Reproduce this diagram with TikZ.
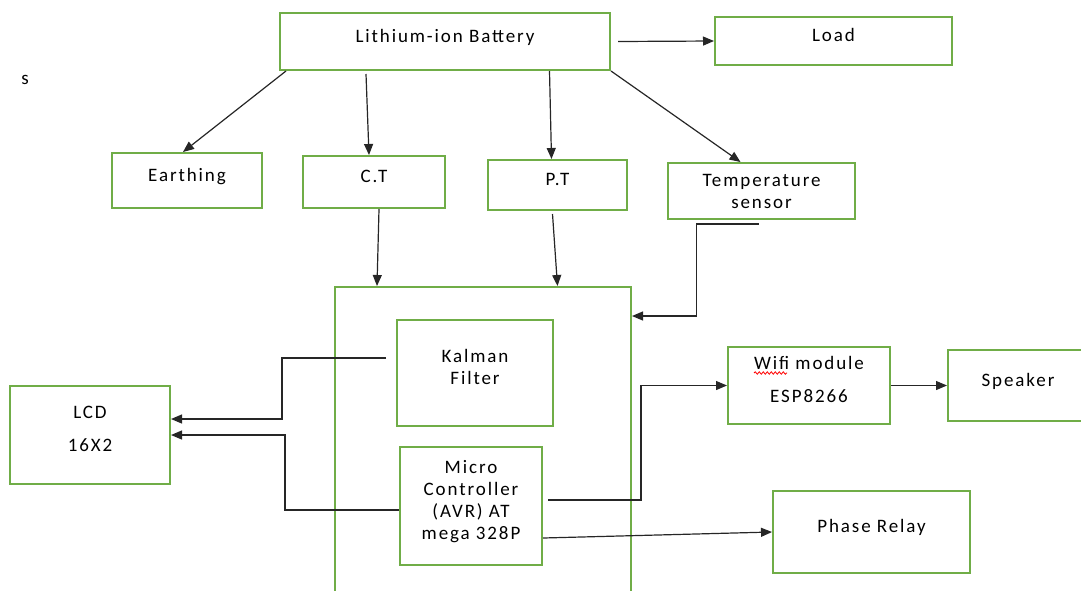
\documentclass[tikz,border=0pt]{standalone}
\usepackage{fontspec}
\setmainfont[LetterSpace=10]{Carlito}
\usetikzlibrary{arrows.meta, decorations.pathmorphing}
\definecolor{boxgreen}{HTML}{70AD47}
\definecolor{wiregray}{HTML}{262626}

\begin{document}
\begin{tikzpicture}[
    x=1pt, y=-1pt,
    block/.style={draw=boxgreen, line width=2pt, align=center,
                  font=\fontsize{19}{22}\selectfont, text depth=12pt,
                  inner sep=0pt},
    wire/.style={draw=wiregray, line width=1.2pt,
                 -{Triangle[length=11pt,width=9pt]}}
  ]
    \path[use as bounding box, clip] (0,0) rectangle (1081,590);

    % power side
    \node[block, minimum width=330pt, minimum height=57pt] (bat) at (445,41.5)
      {Lithium-ion Battery};
    \node[block, minimum width=237pt, minimum height=48pt] (load) at (833.5,41)
      {Load};
    \node[block, minimum width=150pt, minimum height=55pt] (earth) at (187,180.5)
      {Earthing};
    \node[block, minimum width=142pt, minimum height=52pt] (ct) at (374,182)
      {C.T};
    \node[block, minimum width=139pt, minimum height=50pt] (pt) at (557.5,185)
      {P.T};
    \node[block, minimum width=187pt, minimum height=56pt, text depth=0pt]
      (temp) at (761.5,191) {Temperature\\sensor};
    \node[font=\fontsize{19}{22}\selectfont] (s) at (25,80) {s};

    % controller block
    \node[block, minimum width=296pt, minimum height=340pt] (ctrl) at (483,457) {};
    \node[block, minimum width=156pt, minimum height=106pt] (kal) at (475,373)
      {Kalman\\Filter};
    \node[block, minimum width=142pt, minimum height=118pt] (mcu) at (471,506)
      {Micro\\Controller\\(AVR) AT\\mega 328P};

    % outputs
    \node[block, minimum width=160pt, minimum height=98pt] (lcd) at (90,435)
      {LCD\\[11pt]16X2};
    \node[block, minimum width=162pt, minimum height=77pt] (wifi) at (809,385.5)
      {Wifi module\\[11pt]ESP8266};
    \node[block, minimum width=140pt, minimum height=71pt] (spk) at (1018,385.5)
      {Speaker};
    \node[block, minimum width=197pt, minimum height=82pt] (relay) at (871.5,532)
      {Phase Relay};

    \draw[red, line width=0.8pt, decorate,
          decoration={snake, amplitude=1.2pt, segment length=4pt}]
      (754,373) -- (787,373);

    % battery branches
    \draw[wire] ([xshift=7pt]bat.east) -- (load.west);
    \draw[wire] ([xshift=7pt]bat.south west) -- ([xshift=-4pt]earth.north);
    \draw[wire] ([shift={(-8,3)}]bat.south -| ct.north) -- ([xshift=-5pt]ct.north);
    \draw[wire] ([xshift=-8pt]bat.south -| pt.north) -- ([xshift=-6pt]pt.north);
    \draw[wire] (bat.south east) -- ([xshift=-21pt]temp.north);

    % sensors into controller
    \draw[wire] ([xshift=5pt]ct.south) -- ([xshift=3pt]ct.south |- ctrl.north);
    \draw[wire] ([shift={(-5,3)}]pt.south) -- (pt.south |- ctrl.north);
    \draw[wire] ([shift={(-3,4)}]temp.south) -- ++(-62,0)
      |- ([yshift=-30pt]ctrl.north east);

    % controller outputs
    \draw[wire] ([shift={(-10,-15)}]kal.west) -- ++(-104,0)
      |- ([yshift=16pt]lcd.east);
    \draw[wire] ([yshift=-4pt]mcu.west) -- ++(-114,0) |- (lcd.east);
    \draw[wire] ([shift={(5,-6)}]mcu.east) -- ++(93,0) |- (wifi.west);
    \draw[wire] (wifi.east) -- (spk.west);
    \draw[wire] ([yshift=-32pt]mcu.east) -- (relay.west);
\end{tikzpicture}
\end{document}
